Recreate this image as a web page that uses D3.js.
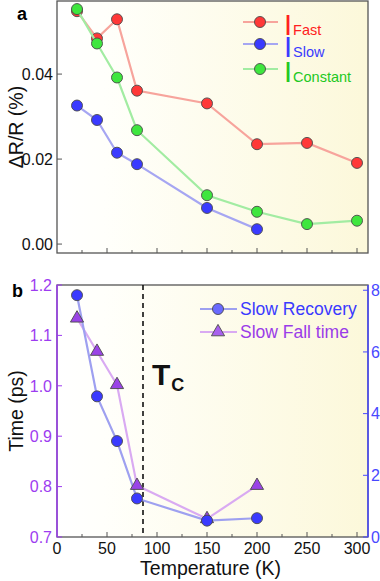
<!DOCTYPE html>
<html>
<head>
<meta charset="utf-8">
<script src="https://cdn.jsdelivr.net/npm/d3@7"></script>
<style>
  body { margin: 0; background: #fff; }
  text { font-family: "Liberation Sans", Arial, sans-serif; }
</style>
</head>
<body>
<svg id="chart" width="380" height="581"></svg>
<script>
// data
const tempsA = [20, 40, 60, 80, 150, 200, 250, 300];
const tempsSlow = [20, 40, 60, 80, 150, 200];
const iFast = [0.0548, 0.0484, 0.0529, 0.0361, 0.0331, 0.0235, 0.0238, 0.0191];
const iSlow = [0.0326, 0.0292, 0.0215, 0.0188, 0.0085, 0.0035];
const iConstant = [0.0553, 0.0472, 0.0392, 0.0268, 0.0115, 0.0076, 0.0047, 0.0055];

const tempsB = [20, 40, 60, 80, 150, 200];
const slowRecovery = [7.84, 4.56, 3.11, 1.25, 0.53, 0.61];   // right axis
const slowFallTime = [1.134, 1.068, 1.002, 0.802, 0.736, 0.802]; // left axis (ps)
const tc = 86;

const xTicks = [0, 50, 100, 150, 200, 250, 300];
const yTicksA = [0, 0.02, 0.04];
const yTicksB = [0.7, 0.8, 0.9, 1.0, 1.1, 1.2];
const yTicksRight = [0, 2, 4, 6, 8];

const svg = d3.select('#chart');

// gradient backgrounds
const defs = svg.append('defs');
const grad = defs.append('linearGradient').attr('id', 'bg')
  .attr('x1', '0%').attr('x2', '100%').attr('y1', '0%').attr('y2', '0%');
grad.append('stop').attr('offset', '0%').attr('stop-color', '#ffffff');
grad.append('stop').attr('offset', '15%').attr('stop-color', '#fffffb');
grad.append('stop').attr('offset', '100%').attr('stop-color', '#fcf8da');

const x = d3.scaleLinear().domain([0, 311]).range([57, 368]);

// ---------- panel a ----------
const yA = d3.scaleLinear().domain([-0.0021, 0.0572]).range([253, 1]);

svg.append('rect')
  .attr('x', x(0)).attr('y', yA(0.0572))
  .attr('width', x(311) - x(0)).attr('height', yA(-0.0021) - yA(0.0572))
  .attr('fill', 'url(#bg)')
  .attr('stroke', '#555').attr('stroke-width', 1.3);

// x ticks (inside, no labels)
svg.append('g')
  .selectAll('line')
  .data(d3.range(25, 311, 25))
  .join('line')
  .attr('x1', (d) => x(d)).attr('x2', (d) => x(d))
  .attr('y1', yA(-0.0021)).attr('y2', (d) => yA(-0.0021) - (d % 50 === 0 ? 5 : 3))
  .attr('stroke', '#555').attr('stroke-width', 1);

// y axis a
svg.append('g')
  .selectAll('line')
  .data(yTicksA)
  .join('line')
  .attr('x1', x(0)).attr('x2', x(0) + 5)
  .attr('y1', (d) => yA(d)).attr('y2', (d) => yA(d))
  .attr('stroke', '#555');
svg.append('g')
  .selectAll('text')
  .data(yTicksA)
  .join('text')
  .attr('x', 53).attr('y', (d) => yA(d)).attr('dy', '0.36em')
  .attr('text-anchor', 'end').attr('font-size', 16).attr('fill', '#111')
  .text((d) => d3.format('.2f')(d));

svg.append('text')
  .attr('transform', `translate(23,${(yA(-0.0021) + yA(0.0572)) / 2}) rotate(-90)`)
  .attr('text-anchor', 'middle').attr('font-size', 19.5).attr('fill', '#111')
  .text('ΔR/R (%)');

svg.append('text').attr('x', 17).attr('y', 20)
  .attr('font-size', 18).attr('font-weight', 'bold').text('a');

const seriesA = [
  { name: 'Fast', xs: tempsA, ys: iFast, fill: '#ff3838', line: '#f7a49c', text: '#ff2020' },
  { name: 'Slow', xs: tempsSlow, ys: iSlow, fill: '#3a3aff', line: '#a6a6f2', text: '#3a3aff' },
  { name: 'Constant', xs: tempsA, ys: iConstant, fill: '#3ee63e', line: '#a2eca2', text: '#22c822' }
];

const lineA = d3.line().x((d) => x(d[0])).y((d) => yA(d[1]));
seriesA.forEach((s) => {
  const pts = s.xs.map((t, i) => [t, s.ys[i]]);
  svg.append('path').datum(pts)
    .attr('d', lineA).attr('fill', 'none')
    .attr('stroke', s.line).attr('stroke-width', 2.2);
  svg.append('g').selectAll('circle')
    .data(pts).join('circle')
    .attr('cx', (d) => x(d[0])).attr('cy', (d) => yA(d[1])).attr('r', 5.5)
    .attr('fill', s.fill).attr('stroke', '#4a4a4a').attr('stroke-width', 0.9);
});

// legend a
const legA = svg.append('g');
seriesA.forEach((s, i) => {
  const cy = [22, 44, 69][i];
  legA.append('line').attr('x1', 243).attr('x2', 278).attr('y1', cy).attr('y2', cy)
    .attr('stroke', s.line).attr('stroke-width', 2.2);
  legA.append('circle').attr('cx', 260).attr('cy', cy).attr('r', 5.5)
    .attr('fill', s.fill).attr('stroke', '#4a4a4a').attr('stroke-width', 0.9);
  const t = legA.append('text').attr('x', 284).attr('y', cy + 13).attr('fill', s.text);
  t.append('tspan').attr('font-size', 29).text('I');
  t.append('tspan').attr('font-size', 14.5).attr('dx', 1).text(s.name);
});

// ---------- panel b ----------
const yB = d3.scaleLinear().domain([0.7, 1.2]).range([537, 285]);
const yR = d3.scaleLinear().domain([0, 8.17]).range([537, 285]);
const purple = '#9d3cf0';
const blue = '#4848ff';

svg.append('rect')
  .attr('x', x(0)).attr('y', yB(1.2))
  .attr('width', x(311) - x(0)).attr('height', yB(0.7) - yB(1.2))
  .attr('fill', 'url(#bg)').attr('stroke', '#555').attr('stroke-width', 1.3);
svg.append('line').attr('x1', x(0)).attr('x2', x(0)).attr('y1', yB(1.2)).attr('y2', yB(0.7))
  .attr('stroke', purple).attr('stroke-width', 1.5);
svg.append('line').attr('x1', x(311)).attr('x2', x(311)).attr('y1', yB(1.2)).attr('y2', yB(0.7))
  .attr('stroke', blue).attr('stroke-width', 1.5);

// x axis b
svg.append('g')
  .selectAll('line')
  .data(d3.range(25, 311, 25))
  .join('line')
  .attr('x1', (d) => x(d)).attr('x2', (d) => x(d))
  .attr('y1', yB(0.7)).attr('y2', (d) => yB(0.7) - (d % 50 === 0 ? 5 : 3))
  .attr('stroke', '#555');
svg.append('g')
  .selectAll('text')
  .data(xTicks)
  .join('text')
  .attr('x', (d) => x(d)).attr('y', 554)
  .attr('text-anchor', 'middle').attr('font-size', 16).attr('fill', '#111')
  .text((d) => d);

svg.append('text').attr('x', (x(0) + x(311)) / 2 - 2).attr('y', 575)
  .attr('text-anchor', 'middle').attr('font-size', 19.5).attr('fill', '#111')
  .text('Temperature (K)');

// left axis b
svg.append('g')
  .selectAll('line')
  .data(yTicksB)
  .join('line')
  .attr('x1', x(0)).attr('x2', x(0) + 5)
  .attr('y1', (d) => yB(d)).attr('y2', (d) => yB(d))
  .attr('stroke', purple);
svg.append('g')
  .selectAll('text')
  .data(yTicksB)
  .join('text')
  .attr('x', 52).attr('y', (d) => yB(d)).attr('dy', '0.36em')
  .attr('text-anchor', 'end').attr('font-size', 16).attr('fill', purple)
  .text((d) => d3.format('.1f')(d));

// right axis b
svg.append('g')
  .selectAll('line')
  .data(yTicksRight)
  .join('line')
  .attr('x1', x(311)).attr('x2', x(311) - 5)
  .attr('y1', (d) => yR(d)).attr('y2', (d) => yR(d))
  .attr('stroke', blue);
svg.append('g')
  .selectAll('text')
  .data(yTicksRight)
  .join('text')
  .attr('x', 371).attr('y', (d) => yR(d)).attr('dy', '0.36em')
  .attr('font-size', 16).attr('fill', blue)
  .text((d) => d);

svg.append('text')
  .attr('transform', `translate(23,${(yB(0.7) + yB(1.2)) / 2}) rotate(-90)`)
  .attr('text-anchor', 'middle').attr('font-size', 19.5).attr('fill', '#111')
  .text('Time (ps)');

svg.append('text').attr('x', 12).attr('y', 297)
  .attr('font-size', 18).attr('font-weight', 'bold').text('b');

// Tc dashed line
svg.append('line').attr('x1', x(tc)).attr('x2', x(tc))
  .attr('y1', yB(1.2)).attr('y2', yB(0.7))
  .attr('stroke', '#111').attr('stroke-width', 1.6).attr('stroke-dasharray', '5,4');
const tcText = svg.append('text').attr('x', 152).attr('y', 385).attr('fill', '#111').attr('font-weight', 'bold');
tcText.append('tspan').attr('font-size', 30).text('T');
tcText.append('tspan').attr('font-size', 18).attr('dx', 1).attr('dy', 6).text('C');

// fall time (triangles, left axis)
const fallPts = tempsB.map((t, i) => [t, slowFallTime[i]]);
const recPts = tempsB.map((t, i) => [t, slowRecovery[i]]);
const tri = d3.symbol().type(d3.symbolTriangle).size(75);

svg.append('path').datum(fallPts)
  .attr('d', d3.line().x((d) => x(d[0])).y((d) => yB(d[1])))
  .attr('fill', 'none').attr('stroke', '#d9aaf2').attr('stroke-width', 2.2);
svg.append('path').datum(recPts)
  .attr('d', d3.line().x((d) => x(d[0])).y((d) => yR(d[1])))
  .attr('fill', 'none').attr('stroke', '#9ea0f0').attr('stroke-width', 2.2);

svg.append('g').selectAll('path')
  .data(fallPts).join('path')
  .attr('d', tri)
  .attr('transform', (d) => `translate(${x(d[0])},${yB(d[1])})`)
  .attr('fill', '#9a44e6').attr('stroke', '#4a4a4a').attr('stroke-width', 0.9);
svg.append('g').selectAll('circle')
  .data(recPts).join('circle')
  .attr('cx', (d) => x(d[0])).attr('cy', (d) => yR(d[1])).attr('r', 5.5)
  .attr('fill', '#3a3aff').attr('stroke', '#4a4a4a').attr('stroke-width', 0.9);

// legend b
const legB = svg.append('g');
legB.append('line').attr('x1', 200).attr('x2', 237).attr('y1', 309).attr('y2', 309)
  .attr('stroke', '#9ea0f0').attr('stroke-width', 2.2);
legB.append('circle').attr('cx', 218).attr('cy', 309).attr('r', 5.5)
  .attr('fill', '#6a6aff').attr('stroke', '#4a4a4a').attr('stroke-width', 0.9);
legB.append('text').attr('x', 240).attr('y', 309).attr('dy', '0.36em')
  .attr('font-size', 17.5).attr('fill', '#3a3aff').text('Slow Recovery');
legB.append('line').attr('x1', 200).attr('x2', 237).attr('y1', 332).attr('y2', 332)
  .attr('stroke', '#d9aaf2').attr('stroke-width', 2.2);
legB.append('path').attr('d', tri)
  .attr('transform', 'translate(218,332)')
  .attr('fill', '#a860ee').attr('stroke', '#4a4a4a').attr('stroke-width', 0.9);
legB.append('text').attr('x', 240).attr('y', 332).attr('dy', '0.36em')
  .attr('font-size', 17.5).attr('fill', '#9a3ce8').text('Slow Fall time');
</script>
</body>
</html>
